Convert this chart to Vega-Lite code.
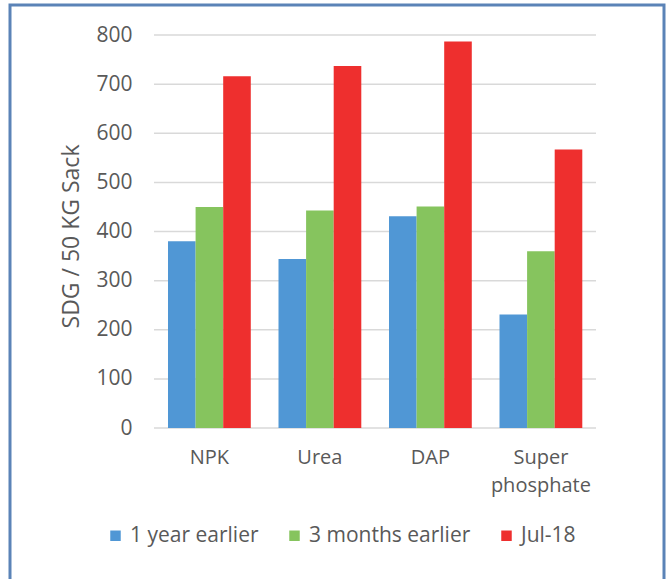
{
  "$schema": "https://vega.github.io/schema/vega-lite/v6.json",
  "width": 654,
  "height": 576,
  "autosize": {"type": "none"},
  "padding": {"left": 10, "top": 5, "right": 4, "bottom": -2},
  "background": "white",
  "config": {
    "view": {"stroke": "#5b83b7", "strokeWidth": 3, "fill": "white"},
    "font": "Open Sans",
    "axis": {"labelColor": "#595959", "titleColor": "#595959", "labelFont": "Open Sans", "titleFont": "Open Sans"},
    "legend": {"labelColor": "#595959", "labelFont": "Open Sans"}
  },
  "datasets": {
    "prices": [
      {"category": "NPK", "series": "1 year earlier", "value": 380},
      {"category": "NPK", "series": "3 months earlier", "value": 450},
      {"category": "NPK", "series": "Jul-18", "value": 716},
      {"category": "Urea", "series": "1 year earlier", "value": 344},
      {"category": "Urea", "series": "3 months earlier", "value": 443},
      {"category": "Urea", "series": "Jul-18", "value": 737},
      {"category": "DAP", "series": "1 year earlier", "value": 431},
      {"category": "DAP", "series": "3 months earlier", "value": 451},
      {"category": "DAP", "series": "Jul-18", "value": 787},
      {"category": "Super phosphate", "series": "1 year earlier", "value": 231},
      {"category": "Super phosphate", "series": "3 months earlier", "value": 360},
      {"category": "Super phosphate", "series": "Jul-18", "value": 567}
    ],
    "grid": [
      {"v": 0}, {"v": 100}, {"v": 200}, {"v": 300}, {"v": 400},
      {"v": 500}, {"v": 600}, {"v": 700}, {"v": 800}
    ]
  },
  "resolve": {"scale": {"x": "independent"}},
  "layer": [
    {
      "data": {"name": "grid"},
      "mark": {"type": "rule", "color": "#d9d9d9", "strokeWidth": 1.5},
      "encoding": {
        "x": {"datum": 0, "type": "quantitative", "scale": {"domain": [-0.32579, 1.15385], "nice": false, "zero": false}, "axis": null},
        "x2": {"datum": 1},
        "y": {"field": "v", "type": "quantitative"}
      }
    },
    {
      "data": {"name": "prices"},
      "mark": {"type": "bar"},
      "encoding": {
        "x": {
          "field": "category",
          "type": "nominal",
          "sort": ["NPK", "Urea", "DAP", "Super phosphate"],
          "scale": {"paddingInner": 0.0814, "paddingOuter": 1, "align": 0.6726},
          "axis": {
            "title": null,
            "orient": "bottom",
            "offset": -153,
            "labelAngle": 0,
            "labelFontSize": 20,
            "labelPadding": 19,
            "labelLineHeight": 28,
            "labelExpr": "datum.label == 'Super phosphate' ? ['Super', 'phosphate'] : datum.label",
            "ticks": false,
            "domain": false,
            "grid": false
          }
        },
        "xOffset": {
          "field": "series",
          "type": "nominal",
          "sort": ["1 year earlier", "3 months earlier", "Jul-18"],
          "scale": {"paddingInner": 0, "paddingOuter": 0.339}
        },
        "y": {
          "field": "value",
          "type": "quantitative",
          "scale": {"domain": [-311.45, 861.07], "nice": false, "zero": false},
          "axis": {
            "title": "SDG / 50 KG Sack",
            "offset": -144,
            "titleFontSize": 23,
            "titleFontWeight": "normal",
            "titleX": -71,
            "titleY": 231,
            "titleAngle": 270,
            "titleAlign": "center",
            "titleBaseline": "bottom",
            "labelFontSize": 21,
            "labelPadding": 22,
            "values": [0, 100, 200, 300, 400, 500, 600, 700, 800],
            "ticks": false,
            "domain": false,
            "grid": false
          }
        },
        "color": {
          "field": "series",
          "type": "nominal",
          "scale": {"domain": ["1 year earlier", "3 months earlier", "Jul-18"], "range": ["#5097d5", "#86c45e", "#ee2f2e"]},
          "legend": {
            "title": null,
            "orient": "none",
            "direction": "horizontal",
            "legendX": 95,
            "legendY": 520,
            "symbolType": "square",
            "symbolSize": 110,
            "symbolStrokeWidth": 0,
            "labelFontSize": 21,
            "labelOffset": 4,
            "labelLimit": 400,
            "columnPadding": 25,
            "padding": 0
          }
        }
      }
    }
  ]
}
